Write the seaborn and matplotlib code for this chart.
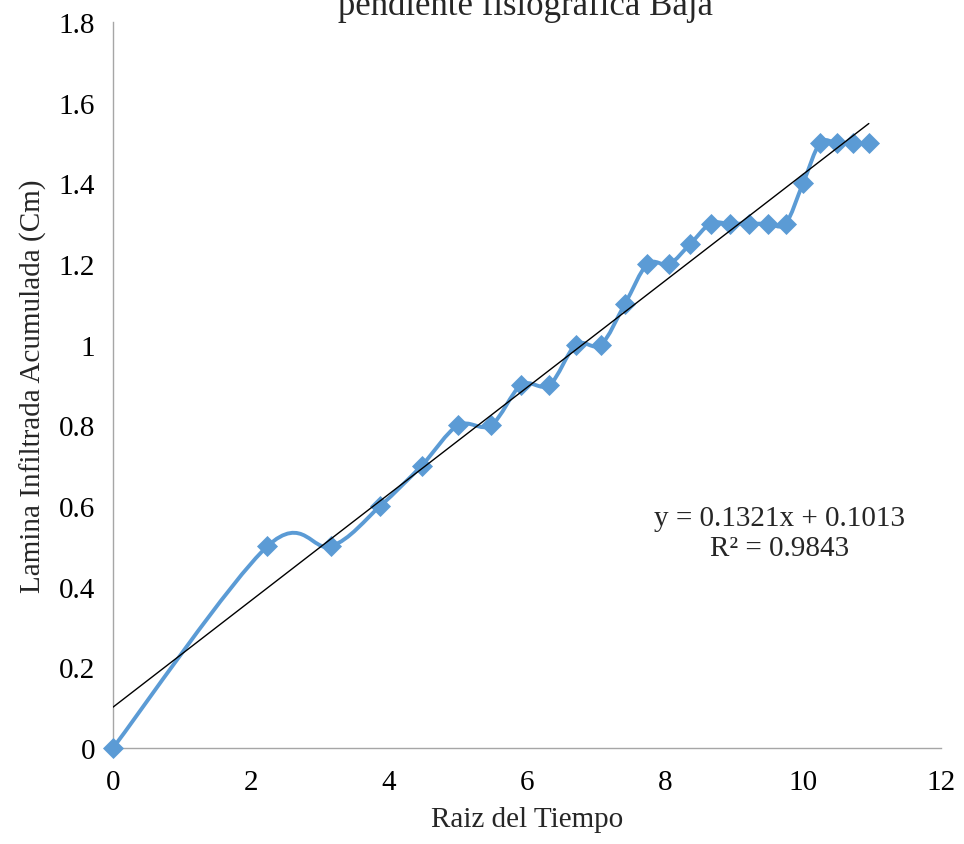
import numpy as np
import pandas as pd
import matplotlib
matplotlib.use("Agg")
import matplotlib.pyplot as plt
from matplotlib.path import Path
from matplotlib.patches import PathPatch
import seaborn as sns

# ---- data ----
raiz_tiempo = [0.0, 2.236, 3.162, 3.873, 4.472, 5.0, 5.477, 5.916, 6.325, 6.708,
               7.071, 7.416, 7.746, 8.062, 8.367, 8.660, 8.944, 9.220, 9.487, 9.747,
               10.0, 10.247, 10.488, 10.724, 10.954]
lamina = [0.0, 0.5, 0.5, 0.6, 0.7, 0.8, 0.8, 0.9, 0.9, 1.0,
          1.0, 1.1, 1.2, 1.2, 1.25, 1.3, 1.3, 1.3, 1.3, 1.3,
          1.4, 1.5, 1.5, 1.5, 1.5]
x_ticks = [0, 2, 4, 6, 8, 10, 12]
y_ticks = [0, 0.2, 0.4, 0.6, 0.8, 1.0, 1.2, 1.4, 1.6, 1.8]
y_tick_labels = ["0", "0.2", "0.4", "0.6", "0.8", "1", "1.2", "1.4", "1.6", "1.8"]
title = "pendiente fisiográfica Baja"
eq_text = "y = 0.1321x + 0.1013\nR² = 0.9843"

df = pd.DataFrame({"x": raiz_tiempo, "y": lamina})

sns.set_style("white")
plt.rcParams["font.family"] = ["Liberation Serif", "DejaVu Serif"]

fig = plt.figure(figsize=(9.64, 8.45), dpi=100)
ax = fig.add_axes([113 / 964, 1 - 749 / 845, (941 - 113) / 964, (749 - 23) / 845])

blue = "#5B9BD5"

# smoothed line (Excel-like Catmull-Rom Bezier through the points)
P = np.column_stack([raiz_tiempo, lamina])
n = len(P)
verts = [tuple(P[0])]
codes = [Path.MOVETO]
for i in range(n - 1):
    p0 = P[i - 1] if i > 0 else P[i]
    p1 = P[i]
    p2 = P[i + 1]
    p3 = P[i + 2] if i + 2 < n else P[i + 1]
    c1 = p1 + (p2 - p0) / 6.0
    c2 = p2 - (p3 - p1) / 6.0
    verts += [tuple(c1), tuple(c2), tuple(p2)]
    codes += [Path.CURVE4] * 3
ax.add_patch(PathPatch(Path(verts, codes), facecolor="none", edgecolor=blue,
                       lw=2.8, zorder=2, capstyle="round", joinstyle="round"))

sns.scatterplot(data=df, x="x", y="y", marker="D", s=115, color=blue,
                edgecolor=blue, linewidth=0, ax=ax, zorder=3, clip_on=False)

# linear trend line
sns.regplot(data=df, x="x", y="y", scatter=False, ci=None, truncate=True,
            line_kws={"color": "black", "lw": 1.0, "zorder": 4}, ax=ax)

ax.set_xlim(0, 12)
ax.set_ylim(0, 1.8)
ax.set_xticks(x_ticks)
ax.set_xticklabels([str(t) for t in x_ticks])
ax.set_yticks(y_ticks)
ax.set_yticklabels(y_tick_labels)

for s in ["top", "right"]:
    ax.spines[s].set_visible(False)
for s in ["left", "bottom"]:
    ax.spines[s].set_color("#A6A6A6")
    ax.spines[s].set_linewidth(1.0)
ax.tick_params(axis="both", direction="out", length=7, width=1, color="#A6A6A6",
               labelsize=21, labelcolor="black", pad=6)
ax.tick_params(axis="x", pad=8)

ax.set_xlabel("Raiz del Tiempo", fontsize=21, labelpad=8)
ax.set_ylabel("Lamina Infiltrada Acumulada (Cm)", fontsize=21, labelpad=8)

fig.text(525 / 964, 1 - 6 / 845, title, ha="center", va="center", fontsize=25)
fig.text(780 / 964, 1 - 534 / 845, eq_text, ha="center", va="center",
         fontsize=21, linespacing=1.15)

fig.savefig("out.png", dpi=100)
